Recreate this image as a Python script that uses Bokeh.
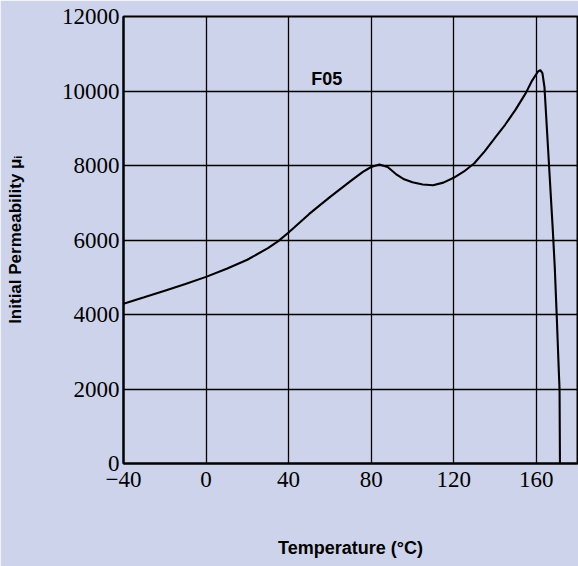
from bokeh.plotting import figure
from bokeh.models import Range1d, FixedTicker, Label
from bokeh.embed import file_html
from bokeh.resources import INLINE

# Initial permeability of F05 ferrite versus temperature
temp_c = [-40, -30, -20, -10, 0, 10, 20, 30, 35, 40, 50, 60, 70, 76, 80, 84,
          88, 92, 96, 100, 105, 110, 115, 120, 125, 130, 135, 140, 145, 150,
          155, 158, 160, 161, 162, 163, 164, 165, 166, 167, 168, 169, 170,
          171, 171.3, 171.5]
permeability = [4290, 4460, 4640, 4820, 5010, 5230, 5470, 5780, 5970, 6200,
                6700, 7150, 7580, 7830, 7960, 8030, 7960, 7770, 7630, 7550,
                7490, 7470, 7540, 7670, 7840, 8060, 8380, 8740, 9100, 9500,
                9950, 10280, 10450, 10530, 10560, 10480, 10100, 9150, 8200,
                7250, 6300, 5250, 3870, 2400, 2000, 0]

x_ticks = [-40, 0, 40, 80, 120, 160]
x_tick_labels = ["\u221240", "0", "40", "80", "120", "160"]
y_ticks = [0, 2000, 4000, 6000, 8000, 10000, 12000]
series_name = "F05"

BG = "#cdd3ea"
SERIF = "Liberation Serif"
SANS = "Liberation Sans"

p = figure(width=578, height=566, output_backend="svg", toolbar_location=None,
           x_range=Range1d(-40, 180), y_range=Range1d(0, 12000),
           min_border_left=123, min_border_right=1, min_border_top=16,
           min_border_bottom=103)
p.background_fill_color = BG
p.border_fill_color = BG
p.outline_line_color = "black"
p.outline_line_width = 2

p.line(temp_c, permeability, line_color="black", line_width=2.1)

for ax in (p.xaxis[0], p.yaxis[0]):
    ax.axis_line_color = "black"
    ax.axis_line_width = 2
    ax.major_tick_out = 0
    ax.major_tick_in = 0
    ax.minor_tick_out = 0
    ax.minor_tick_in = 0
    ax.major_label_text_font = SERIF
    ax.major_label_text_font_size = "23px"
    ax.major_label_text_color = "black"
    ax.axis_label_text_font = SANS
    ax.axis_label_text_font_style = "bold"
    ax.axis_label_text_color = "black"

p.xaxis.ticker = FixedTicker(ticks=x_ticks)
p.xaxis.major_label_overrides = dict(zip(x_ticks, x_tick_labels))
p.xaxis.major_label_standoff = 8
p.xaxis.axis_label = "Temperature (\u00b0C)"
p.xaxis.axis_label_text_font_size = "18px"
p.xaxis.axis_label_standoff = 48

p.yaxis.ticker = FixedTicker(ticks=y_ticks)
p.yaxis.major_label_standoff = 4
p.yaxis.axis_label = "Initial Permeability \u03bc\u1d62"
p.yaxis.axis_label_text_font_size = "17px"
p.yaxis.axis_label_standoff = 34

p.xgrid.ticker = FixedTicker(ticks=x_ticks[1:])
p.ygrid.ticker = FixedTicker(ticks=y_ticks[1:-1])
for g in (p.xgrid[0], p.ygrid[0]):
    g.grid_line_color = "black"
    g.grid_line_width = 1.3
    g.grid_line_alpha = 1.0

p.add_layout(Label(x=51, y=10330, text=series_name, text_font=SANS,
                   text_font_style="bold", text_font_size="18px",
                   text_baseline="alphabetic", text_color="black"))

open("out.html", "w").write(file_html(p, INLINE))
